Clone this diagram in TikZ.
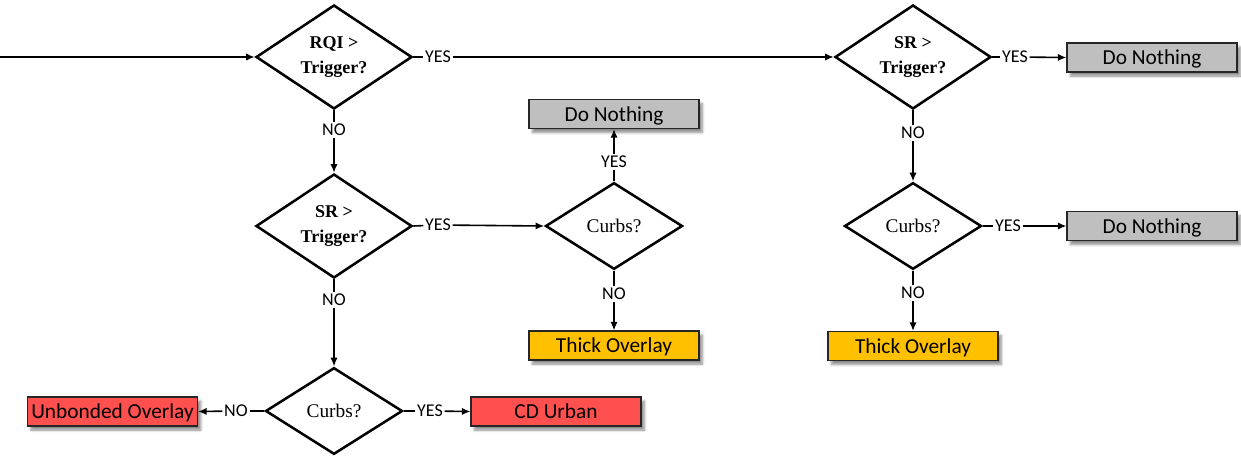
\documentclass[tikz,border=0pt]{standalone}
\usepackage{fontspec}
\setmainfont{Liberation Serif}
\newfontfamily\calfont{Carlito}
\usetikzlibrary{shapes.geometric,arrows.meta,shadows.blur}
\definecolor{boxgray}{RGB}{191,191,191}
\definecolor{boxyellow}{RGB}{255,192,0}
\definecolor{boxred}{RGB}{255,80,80}
\begin{document}
\begin{tikzpicture}[x=0.75pt,y=-0.75pt,
  dec/.style={diamond,draw,line width=1.9pt,inner sep=0pt,aspect=1.5,align=center},
  trig/.style={dec,minimum width=117pt,minimum height=78pt,font=\fontsize{13.5}{19}\selectfont\bfseries},
  curb/.style={dec,minimum width=102.75pt,minimum height=65pt,font=\fontsize{14.5}{16}\selectfont},
  box/.style={draw=black!85,line width=0.8pt,minimum width=127.5pt,minimum height=21.75pt,inner sep=0pt,
    text height=11pt,text depth=0.5pt,
    font=\calfont\fontsize{16}{18}\selectfont,
    blur shadow={shadow xshift=2.5pt,shadow yshift=-3pt,shadow blur steps=6,shadow opacity=45}},
  graybox/.style={box,fill=boxgray},
  yellowbox/.style={box,fill=boxyellow},
  redbox/.style={box,fill=boxred},
  lab/.style={font=\calfont\fontsize{13.5}{15}\selectfont,inner sep=1.2pt},
  conn/.style={line width=1.2pt},
  arr/.style={conn,-{Latex[length=6.5pt,width=5.5pt]}}
]
\useasboundingbox (0,0) rectangle (1241,464);
\coordinate (start) at (0,57);
% decisions
\node[trig] (d1) at (334,57) {RQI >\\Trigger?};
\node[trig] (d2) at (334,226) {SR >\\Trigger?};
\node[curb] (d3) at (334,411) {Curbs?};
\node[trig] (d4) at (913,57) {SR >\\Trigger?};
\node[curb] (c1) at (614,226) {Curbs?};
\node[curb] (c2) at (913,226) {Curbs?};
% boxes
\node[graybox] (dn1) at (614,114) {Do Nothing};
\node[yellowbox] (to1) at (614,345.5) {Thick Overlay};
\node[redbox] (ub) at (112.5,411.5) {Unbonded Overlay};
\node[redbox] (cd) at (556,411.5) {CD Urban};
\node[graybox] (dn2) at (1152,57.5) {Do Nothing};
\node[graybox] (dn3) at (1152,226) {Do Nothing};
\node[yellowbox] (to2) at (913,346) {Thick Overlay};
% labels
\node[lab] (y1) at (438,57) {YES};
\node[lab] (n1) at (334,130) {NO};
\node[lab] (y2) at (438,225) {YES};
\node[lab] (n2) at (334,300) {NO};
\node[lab] (n3) at (236,411) {NO};
\node[lab] (y3) at (430,411) {YES};
\node[lab] (yc1) at (614,162) {YES};
\node[lab] (nc1) at (614,294) {NO};
\node[lab] (y4) at (1015,57) {YES};
\node[lab] (n4) at (913,133) {NO};
\node[lab] (yc2) at (1008,226) {YES};
\node[lab] (nc2) at (913,293) {NO};
% connectors
\draw[arr] (start) -- (d1.west);
\draw[conn] (d1.east) -- (y1); \draw[arr] (y1) -- (d4.west);
\draw[conn] (d1.south) -- (n1); \draw[arr] (n1) -- (d2.north);
\draw[conn] (d2.east) -- (y2); \draw[arr] (y2) -- (c1.west);
\draw[conn] (d2.south) -- (n2); \draw[arr] (n2) -- (d3.north);
\draw[conn] (d3.west) -- (n3); \draw[arr] (n3) -- (ub.east);
\draw[conn] (d3.east) -- (y3); \draw[arr] (y3) -- (cd.west);
\draw[conn] (c1.north) -- (yc1); \draw[arr] (yc1) -- (dn1.south);
\draw[conn] (c1.south) -- (nc1); \draw[arr] (nc1) -- (to1.north);
\draw[conn] (d4.east) -- (y4); \draw[arr] (y4) -- (dn2.west);
\draw[conn] (d4.south) -- (n4); \draw[arr] (n4) -- (c2.north);
\draw[conn] (c2.east) -- (yc2); \draw[arr] (yc2) -- (dn3.west);
\draw[conn] (c2.south) -- (nc2); \draw[arr] (nc2) -- (to2.north);
\end{tikzpicture}
\end{document}
